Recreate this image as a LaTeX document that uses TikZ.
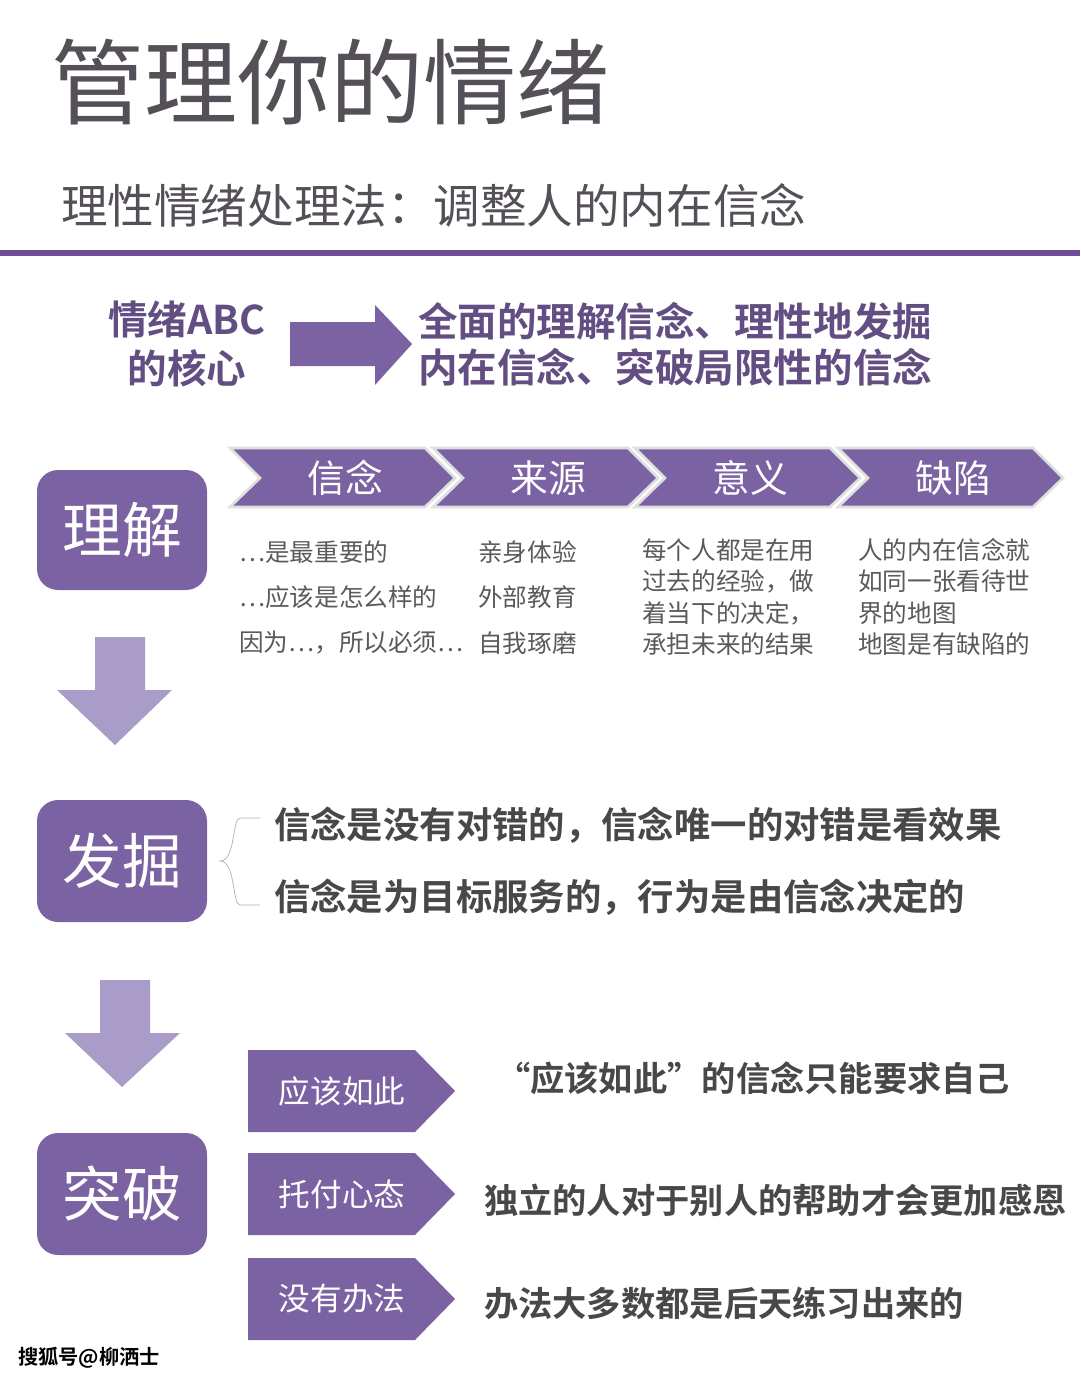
\documentclass[tikz,border=0pt]{standalone}
\usepackage{fontspec}
\setmainfont{Noto Sans CJK SC}[BoldFont={Noto Sans CJK SC Bold}]
\usepackage{tikz}
\definecolor{boxpurple}{HTML}{7B62A3}
\definecolor{arrowpurple}{HTML}{A99CC8}
\definecolor{titlegray}{HTML}{555058}
\definecolor{textgray}{HTML}{5A5A5A}
\definecolor{linepurple}{HTML}{6E4E98}
\tikzset{
    mainbox/.style={fill=boxpurple,rounded corners=12pt},
    boxtext/.style={text=white,font=\fontsize{34}{40}\selectfont},
    coltext/.style={anchor=west,text=textgray,font=\fontsize{14}{18}\selectfont,align=left},
    boldtext/.style={anchor=west,text=textgray!80!black,font=\bfseries\fontsize{20.7}{26}\selectfont},
    tagtext/.style={text=white,font=\fontsize{18}{22}\selectfont},
}
\begin{document}
\begin{tikzpicture}[x=0.02cm,y=-0.02cm]
    \useasboundingbox (0,0) rectangle (1080,1383);
    \fill[white] (0,0) rectangle (1080,1383);

    % Titles
    \node[anchor=west,text=titlegray,font=\fontsize{53}{60}\selectfont] (title) at (45,82) {管理你的情绪};
    \node[anchor=west,text=titlegray,font=\fontsize{26.5}{30}\selectfont] (subtitle) at (55,205) {理性情绪处理法：调整人的内在信念};
    \fill[linepurple] (0,250) rectangle (1080,256);

    % ABC core
    \node[text=boxpurple!80!black,font=\bfseries\fontsize{22.5}{27.5}\selectfont,align=center] (core) at (187,344) {情绪ABC\\的核心};
    \fill[boxpurple] (290,322) -- (375,322) -- (375,305) -- (412,344) -- (375,385) -- (375,366) -- (290,366) -- cycle;
    \node[anchor=west,text=boxpurple!80!black,font=\bfseries\fontsize{22.5}{26.5}\selectfont,align=left] (coretext) at (412,344) {全面的理解信念、理性地发掘\\内在信念、突破局限性的信念};

    % Left boxes
    \fill[mainbox] (37,470) rectangle (207,590);
    \node[boxtext] (lijie) at (122,530) {理解};
    \fill[mainbox] (37,800) rectangle (207,922);
    \node[boxtext] (fajue) at (122,861) {发掘};
    \fill[mainbox] (37,1133) rectangle (207,1255);
    \node[boxtext] (tupo) at (122,1194) {突破};

    % Down arrows
    \fill[arrowpurple] (95,637) -- (145,637) -- (145,690) -- (172,690) -- (115,745) -- (57,690) -- (95,690) -- cycle;
    \fill[arrowpurple] (100,980) -- (150,980) -- (150,1033) -- (180,1033) -- (122,1087) -- (65,1033) -- (100,1033) -- cycle;

    % Chevrons
    \foreach \x/\t in {230/信念,433/来源,635/意义,838/缺陷} {
        \draw[fill=boxpurple,draw=gray!25,line width=1.5pt] (\x,448) -- (\x+195,448) -- (\x+225,478) -- (\x+195,507) -- (\x,507) -- (\x+30,478) -- cycle;
        \node[text=white,font=\fontsize{21.5}{24}\selectfont] at (\x+115,478) {\t};
    }

    % Columns
    \node[coltext] (c1a) at (233,552) {…是最重要的};
    \node[coltext] (c1b) at (233,597) {…应该是怎么样的};
    \node[coltext] (c1c) at (233,643) {因为…，所以必须…};
    \node[coltext] (c2a) at (472,552) {亲身体验};
    \node[coltext] (c2b) at (472,597) {外部教育};
    \node[coltext] (c2c) at (472,643) {自我琢磨};
    \node[coltext,font=\fontsize{14}{17.8}\selectfont] (c3) at (636,597) {每个人都是在用\\过去的经验，做\\着当下的决定，\\承担未来的结果};
    \node[coltext,font=\fontsize{14}{17.8}\selectfont] (c4) at (852,597) {人的内在信念就\\如同一张看待世\\界的地图\\地图是有缺陷的};

    % Discover
    \draw[gray!60,thin] (260,818) -- (240,818) .. controls (232,818) and (236,861) .. (220,861) .. controls (236,861) and (232,905) .. (240,905) -- (260,905);
    \node[boldtext] (f1) at (268,825) {信念是没有对错的，信念唯一的对错是看效果};
    \node[boldtext] (f2) at (268,897) {信念是为目标服务的，行为是由信念决定的};

    % Break tags
    \foreach \y/\t in {1050/应该如此,1153/托付心态,1258/没有办法} {
        \fill[boxpurple] (248,\y) -- (415,\y) -- (455,\y+41) -- (415,\y+82) -- (248,\y+82) -- cycle;
        \node[tagtext] at (342,\y+41) {\t};
    }
    \node[boldtext,font=\bfseries\fontsize{19.5}{24}\selectfont] (t1) at (490,1078) {“应该如此”的信念只能要求自己};
    \node[boldtext,font=\bfseries\fontsize{19.5}{24}\selectfont] (t2) at (478,1200) {独立的人对于别人的帮助才会更加感恩};
    \node[boldtext,font=\bfseries\fontsize{19.5}{24}\selectfont] (t3) at (478,1303) {办法大多数都是后天练习出来的};

    % Watermark
    \node[anchor=west,text=black,font=\bfseries\fontsize{11.5}{14}\selectfont] (mark) at (12,1358) {搜狐号@柳洒士};
\end{tikzpicture}
\end{document}
